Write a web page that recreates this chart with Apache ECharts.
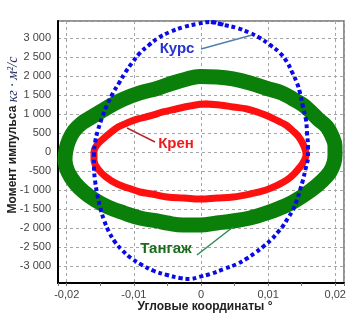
<!DOCTYPE html>
<html>
<head>
<meta charset="utf-8">
<script src="https://cdn.jsdelivr.net/npm/echarts@6/dist/echarts.min.js"></script>
<style>
  html, body { margin: 0; padding: 0; background: #fff; }
  #chart { width: 352px; height: 321px; }
</style>
</head>
<body>
<div id="chart"></div>
<script>
// values: [angle, momentum]; each loop repeats its first two points to close smoothly
const kursPoints = [
  [0.00149, 3435], [0.00343, 3356], [0.00536, 3277], [0.0073, 3145], [0.00879, 3013],
  [0.01028, 2829], [0.01177, 2618], [0.01281, 2381], [0.01355, 2118], [0.0143, 1828],
  [0.01475, 1565], [0.01519, 1196], [0.01564, 853], [0.01579, 511], [0.01594, 142],
  [0.01594, -121], [0.01564, -385], [0.01519, -727], [0.01475, -990], [0.0143, -1254],
  [0.0137, -1517], [0.01296, -1728], [0.01221, -1939], [0.01147, -2097], [0.01057, -2281],
  [0.00938, -2465], [0.00804, -2650], [0.0067, -2808], [0.00536, -2940], [0.00343, -3071],
  [0.00134, -3203], [-0.0003, -3282], [-0.00164, -3335], [-0.00313, -3308], [-0.00506, -3229],
  [-0.007, -3124], [-0.00879, -2966], [-0.01043, -2782], [-0.01177, -2571], [-0.01281, -2360],
  [-0.0137, -2097], [-0.01445, -1781], [-0.01504, -1438], [-0.01549, -1069], [-0.01579, -727],
  [-0.01594, -385], [-0.01594, -68], [-0.01579, 248], [-0.01534, 590], [-0.01475, 906],
  [-0.014, 1249], [-0.01311, 1565], [-0.01221, 1828], [-0.01132, 2091], [-0.01028, 2355],
  [-0.00909, 2618], [-0.00774, 2829], [-0.0064, 3013], [-0.00462, 3171], [-0.00253, 3303],
  [-0.0006, 3382], [0.00149, 3435], [0.00343, 3356]
];

const krenPoints = [
  [0.0006, 1275], [0.00283, 1249], [0.00477, 1196], [0.00685, 1143], [0.00879, 1038],
  [0.01028, 932], [0.01147, 827], [0.01266, 722], [0.0137, 564], [0.01445, 432],
  [0.01504, 274], [0.01549, 90], [0.01564, -68], [0.01534, -227], [0.01475, -385],
  [0.01385, -569], [0.01281, -727], [0.01147, -859], [0.00968, -990], [0.0073, -1096],
  [0.00477, -1175], [0.00238, -1201], [-0.00015, -1227], [-0.00253, -1201], [-0.00506, -1175],
  [-0.0073, -1096], [-0.00909, -1043], [-0.01087, -938], [-0.01251, -832], [-0.01415, -648],
  [-0.01534, -437], [-0.01594, -200], [-0.01594, 11], [-0.01549, 195], [-0.0146, 353],
  [-0.01355, 511], [-0.01236, 669], [-0.01102, 774], [-0.00938, 880], [-0.0076, 959],
  [-0.00566, 1064], [-0.00372, 1143], [-0.00164, 1222], [0.0006, 1275], [0.00283, 1249]
];

const tangazhPoints = [
  [-0.00015, 1999], [0.00238, 1986], [0.00477, 1933], [0.0073, 1828], [0.00983, 1683],
  [0.01206, 1565], [0.0137, 1407], [0.01519, 1249], [0.01623, 1090], [0.01743, 880],
  [0.01877, 669], [0.01951, 432], [0.01996, 169], [0.01996, -68], [0.01981, -279],
  [0.01921, -516], [0.01802, -753], [0.01623, -1017], [0.0137, -1306], [0.01177, -1465],
  [0.00983, -1596], [0.0073, -1728], [0.00477, -1807], [0.00238, -1860], [-0.00015, -1912],
  [-0.00268, -1912], [-0.00506, -1860], [-0.00655, -1807], [-0.00909, -1728], [-0.01147, -1596],
  [-0.01385, -1438], [-0.01579, -1254], [-0.01743, -1043], [-0.01877, -806], [-0.01981, -516],
  [-0.02026, -200], [-0.02011, 63], [-0.01966, 327], [-0.01892, 564], [-0.01772, 774],
  [-0.01653, 906], [-0.01504, 1064], [-0.01326, 1249], [-0.01147, 1407], [-0.00909, 1565],
  [-0.00655, 1683], [-0.00462, 1801], [-0.00238, 1920], [-0.00015, 1999], [0.00238, 1986]
];

// callouts: text anchor and leader line, in data units
const callouts = [
  { text: 'Курс', color: '#2633cc', lineColor: '#4f7fae', at: [-0.00357, 2724], from: [0.0, 2724], to: [0.0076, 3092] },
  { text: 'Крен', color: '#ee1c1c', lineColor: '#b52a2a', at: [-0.00372, 221], from: [-0.00685, 274], to: [-0.01102, 643] },
  { text: 'Тангаж', color: '#1c6b1c', lineColor: '#2e8b57', at: [-0.00521, -2544], from: [-0.0006, -2703], to: [0.00477, -1965] }
];

const xTitle = 'Угловые координаты °';
const yTitle = 'Момент импульса';
const yUnit = 'кг · м²/с';

const chart = echarts.init(document.getElementById('chart'));

function fmtX(v) {
  if (Math.abs(v) < 1e-9) return '0';
  return String(+v.toFixed(2)).replace('.', ',');
}
function fmtY(v) {
  return String(Math.round(v)).replace(/\B(?=(\d{3})+(?!\d))/g, ' ');
}

const gridDash = { color: '#a6a6a6', type: [3, 3], width: 1 };
const labelStyle = { fontSize: 11, color: '#444', fontFamily: 'Liberation Sans, Arial' };

chart.setOption({
  animation: false,
  backgroundColor: '#fff',
  grid: {
    left: 58, top: 21, width: 286, height: 262,
    outerBoundsMode: 'none', containLabel: false,
    show: true, borderColor: '#6f6f6f', borderWidth: 1.5
  },
  xAxis: {
    type: 'value',
    min: -0.0213,
    max: 0.0213,
    splitNumber: 5,
    axisLine: { onZero: false, lineStyle: { color: '#000', width: 2 } },
    axisTick: { length: 3, lineStyle: { color: '#777' } },
    minorTick: { show: true, splitNumber: 2, length: 3, lineStyle: { color: '#777' } },
    splitLine: { lineStyle: gridDash },
    axisLabel: Object.assign({ showMinLabel: false, showMaxLabel: false, margin: 6, formatter: fmtX }, labelStyle),
    name: xTitle,
    nameLocation: 'middle',
    nameGap: 18,
    nameMoveOverlap: false,
    nameTextStyle: { fontSize: 12, fontWeight: 'bold', color: '#222', fontFamily: 'Liberation Sans, Arial', padding: [0, 0, 0, 8] }
  },
  yAxis: {
    type: 'value',
    min: -3440,
    max: 3460,
    splitNumber: 14,
    axisLine: { onZero: false, lineStyle: { color: '#000', width: 2 } },
    axisTick: { show: false },
    splitLine: { lineStyle: gridDash },
    axisLabel: Object.assign({ showMinLabel: false, showMaxLabel: false, margin: 7, formatter: fmtY }, labelStyle),
    name: yTitle + ' {u|' + yUnit + '}',
    nameLocation: 'middle',
    nameGap: 38,
    nameMoveOverlap: false,
    nameTextStyle: {
      fontSize: 12, fontWeight: 'bold', color: '#222', fontFamily: 'Liberation Sans, Arial',
      padding: [0, 0, 0, 34],
      rich: { u: { fontSize: 14, fontStyle: 'italic', fontWeight: 'normal', color: '#1c2a5a', fontFamily: 'Liberation Serif' } }
    }
  },
  series: [
    {
      name: 'Тангаж', type: 'line', data: tangazhPoints, showSymbol: false, smooth: 0.4,
      lineStyle: { color: '#0a7f0a', width: 15 }, z: 2
    },
    {
      name: 'Крен', type: 'line', data: krenPoints, showSymbol: false, smooth: 0.4,
      lineStyle: { color: '#ff1010', width: 7 }, z: 3
    },
    {
      name: 'Курс', type: 'line', data: kursPoints, showSymbol: false, smooth: 0.4,
      lineStyle: { color: '#0a0ae6', width: 4, type: [4, 3], cap: 'butt' }, z: 4
    }
  ]
});

// callout texts and leader lines placed through the chart's own scales
const graphics = [];
callouts.forEach(function (c) {
  const p = chart.convertToPixel({ gridIndex: 0 }, c.at);
  const a = chart.convertToPixel({ gridIndex: 0 }, c.from);
  const b = chart.convertToPixel({ gridIndex: 0 }, c.to);
  graphics.push({
    type: 'line', z: 10,
    shape: { x1: a[0], y1: a[1], x2: b[0], y2: b[1] },
    style: { stroke: c.lineColor, lineWidth: 1.5 }
  });
  graphics.push({
    type: 'text', z: 11, x: p[0], y: p[1],
    style: {
      text: c.text, fill: c.color, font: 'bold 15px "Liberation Sans", Arial',
      textAlign: 'center', textVerticalAlign: 'middle'
    }
  });
});
chart.setOption({ graphic: graphics });
</script>
</body>
</html>
